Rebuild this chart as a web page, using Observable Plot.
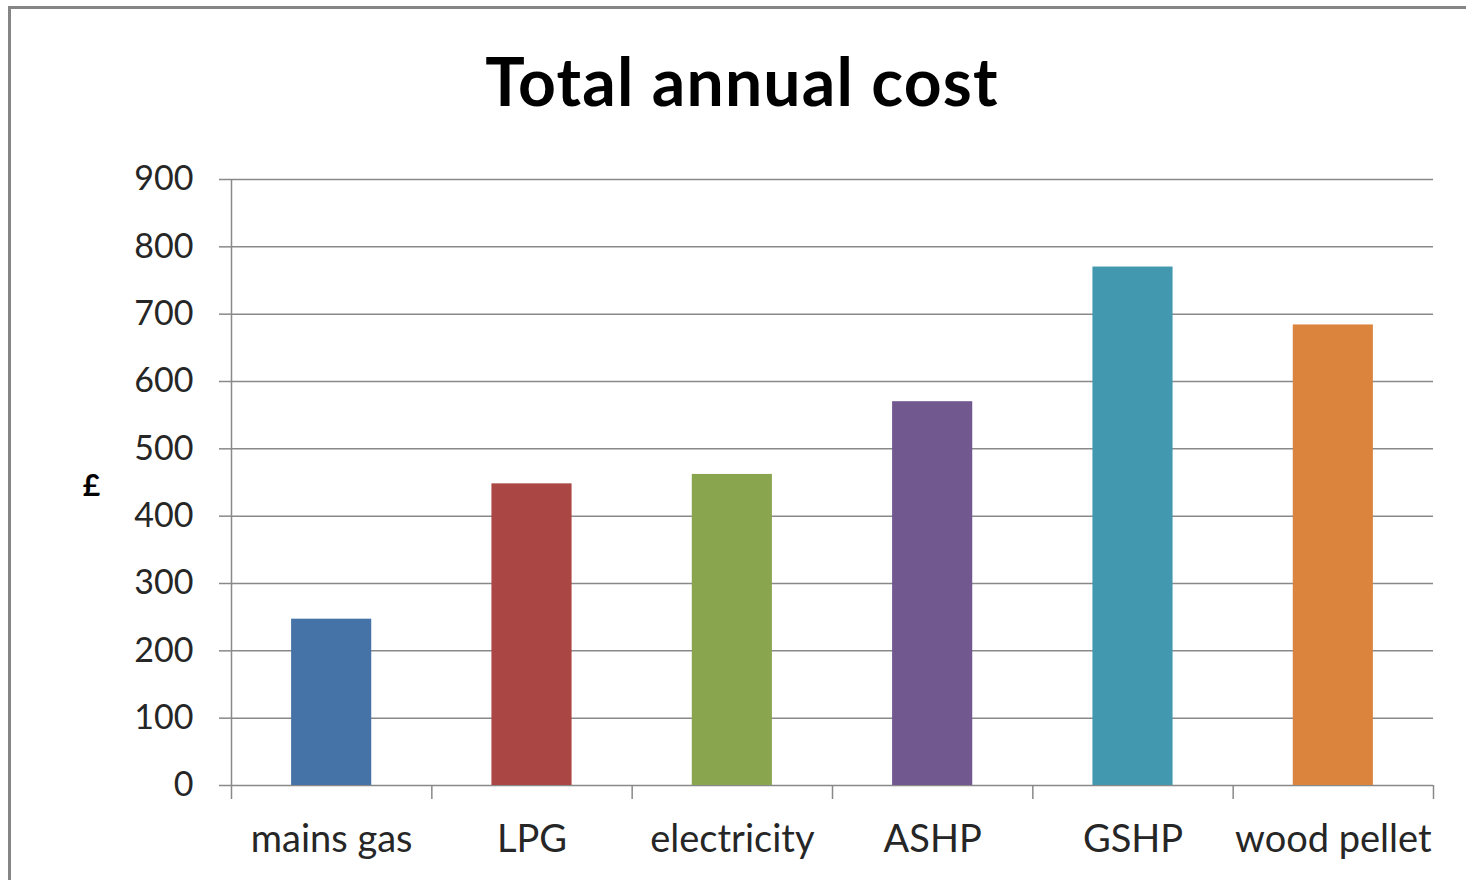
<!DOCTYPE html>
<html>
<head>
<meta charset="utf-8">
<script src="https://cdn.jsdelivr.net/npm/d3@7"></script>
<script src="https://cdn.jsdelivr.net/npm/@observablehq/plot@0.6"></script>
<style>
  html, body { margin: 0; padding: 0; background: #fff; overflow: hidden; }
  #page { position: relative; width: 1466px; height: 880px; overflow: hidden; }
  #frame { position: absolute; left: 8px; top: 6px; width: 1500px; height: 920px; border: 3px solid #858585; box-sizing: border-box; }
  #title { position: absolute; left: 0; top: 48px; width: 1484px; text-align: center;
           font-family: Lato, sans-serif; font-weight: bold; font-size: 66px; letter-spacing: 1.2px;
           line-height: 1; color: #000; }
  #chart { position: absolute; left: 0; top: 140px; }
</style>
</head>
<body>
<div id="page">
  <div id="frame"></div>
  <div id="title">Total annual cost</div>
  <div id="chart"></div>
</div>
<script>
// Heating options and their total annual running cost (£)
const categories = ["mains gas", "LPG", "electricity", "ASHP", "GSHP", "wood pellet"];
const costs = [247, 448, 462, 570, 770, 684];
const colors = ["#4572A7", "#AA4643", "#89A54E", "#71588F", "#4198AF", "#DB843D"];
const yTicks = [0, 100, 200, 300, 400, 500, 600, 700, 800, 900];

const data = categories.map((category, index) => ({category, index, cost: costs[index]}));

const gridColor = "#898989";
const textColor = "#262626";

const chart = Plot.plot({
  width: 1466,
  height: 740,
  marginLeft: 231,
  marginRight: 33,
  marginTop: 39,
  marginBottom: 95,
  style: {fontFamily: "Lato, sans-serif", background: "transparent", overflow: "visible"},
  // each category occupies one unit on x; bars fill its middle 40%
  x: {domain: [0, categories.length], axis: null},
  y: {domain: [0, 900], axis: null},
  color: {domain: categories, range: colors},
  marks: [
    Plot.ruleY(yTicks, {stroke: gridColor, strokeWidth: 1.5}),
    Plot.ruleX([0], {stroke: gridColor, strokeWidth: 1.5}),
    Plot.rectY(data, {x1: d => d.index + 0.3, x2: d => d.index + 0.7, y: "cost", fill: "category"}),
    Plot.axisY({ticks: yTicks, tickSize: 12, tickPadding: 26, stroke: gridColor, strokeWidth: 1.5,
                fill: textColor, fontSize: 34, label: null}),
    Plot.axisX({ticks: d3.range(categories.length + 1), tickSize: 14, tickFormat: () => "",
                stroke: gridColor, strokeWidth: 1.5, label: null}),
    Plot.axisX({ticks: categories.map((c, i) => i + 0.5), tickSize: 0, tickPadding: 40,
                tickFormat: t => categories[Math.floor(t)], fill: textColor, fontSize: 38, label: null}),
    Plot.text(["£"], {frameAnchor: "left", dx: -140, dy: 4, textAnchor: "middle",
                      fontWeight: "bold", fontSize: 30, fill: "#000"})
  ]
});
document.getElementById("chart").appendChild(chart);
</script>
</body>
</html>
